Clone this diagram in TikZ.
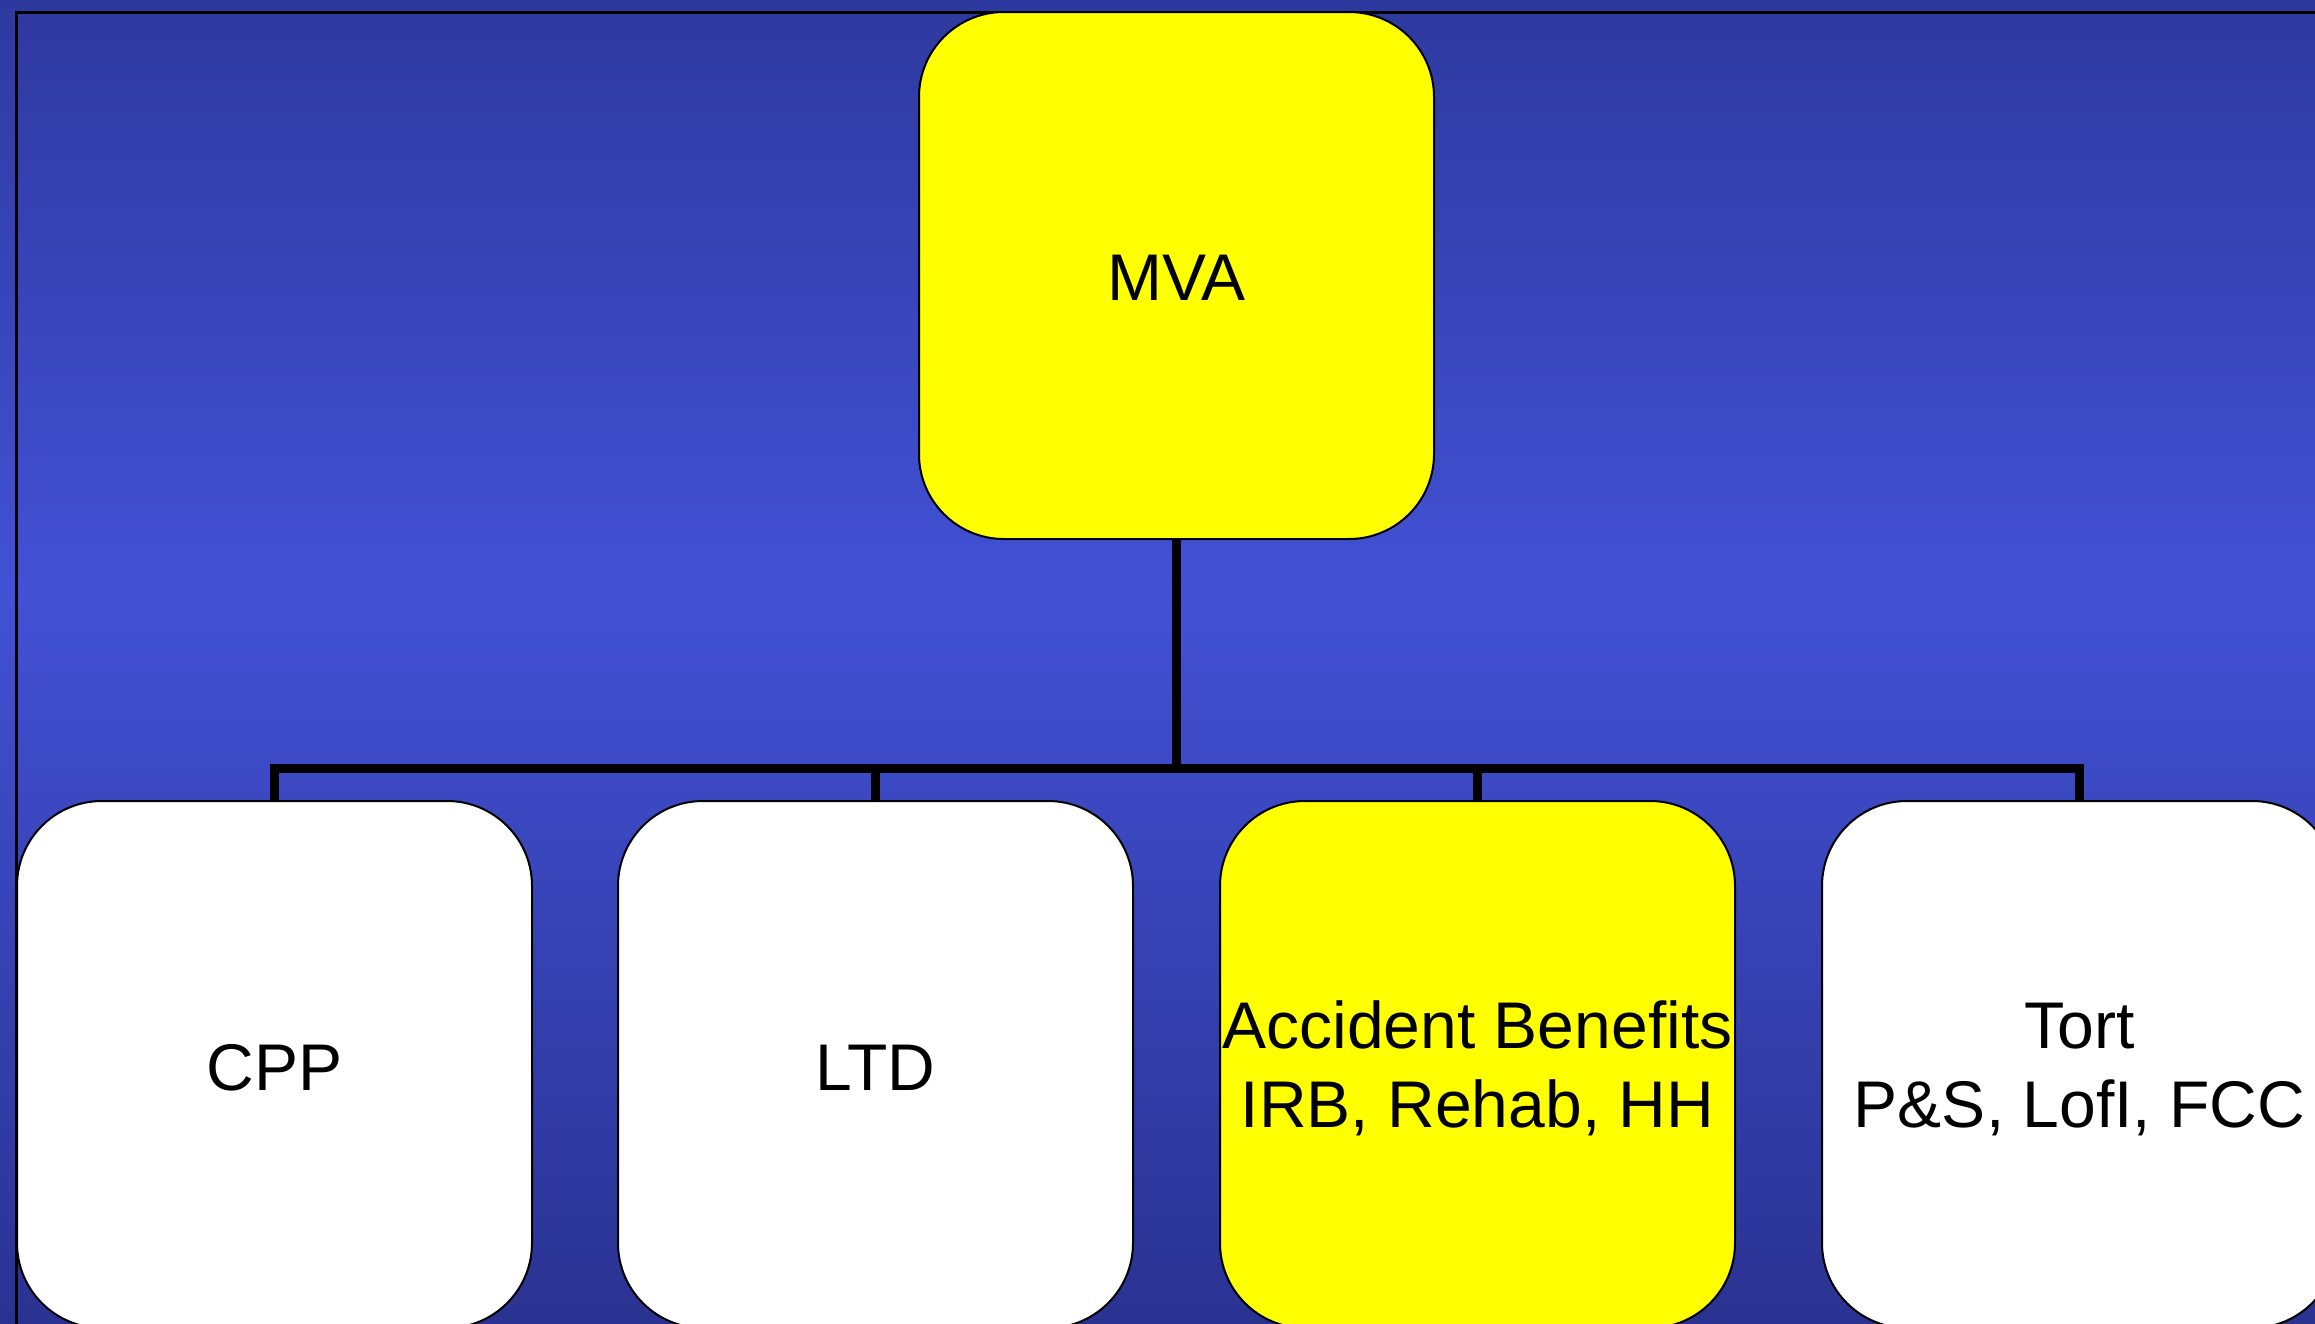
\documentclass[tikz,border=0pt]{standalone}
\usepackage{fontspec}
\setmainfont{Liberation Sans}
\definecolor{bgtop}{RGB}{46,57,159}
\definecolor{bgmid}{RGB}{66,81,213}
\definecolor{bgbot}{RGB}{42,50,145}
\definecolor{boxyellow}{RGB}{255,255,0}
\begin{document}
\begin{tikzpicture}[x=1pt,y=-1pt,
  box/.style={draw=black, line width=2pt, rounded corners=85pt,
    minimum width=515pt, minimum height=527pt, inner sep=0pt,
    align=center, font=\fontsize{66}{79}\selectfont},
  yelbox/.style={box, fill=boxyellow},
  whtbox/.style={box, fill=white},
  conn/.style={draw=black, line width=9pt}]
\useasboundingbox (0,0) rectangle (2315,1323);
\clip (0,0) rectangle (2315,1323);
% background
\shade[top color=bgtop, bottom color=bgmid] (0,0) rectangle (2315,591);
\shade[top color=bgmid, bottom color=bgbot] (0,590) rectangle (2315,1323);
% frame
\draw[line width=3pt] (16,1400) -- (16,12) -- (2400,12);
% nodes
\node[yelbox, text height=50pt] (mva) at (1176.5,275.5) {MVA};
\node[whtbox, text height=53pt] (cpp) at (274.5,1064.5) {CPP};
\node[whtbox, text height=52pt] (ltd) at (875.5,1064.5) {LTD};
\node[yelbox, text height=135pt] (ab) at (1477.5,1064.5) {Accident Benefits\\IRB, Rehab, HH};
\node[whtbox, text height=134pt] (tort) at (2079.5,1064.5) {Tort\\P\&S, LofI, FCC};
% connectors
\coordinate (bus) at (1176.5,768.5);
\draw[conn] (mva.south) -- (bus) -| (cpp.north);
\draw[conn] (mva.south) -- (bus) -| (ltd.north);
\draw[conn] (mva.south) -- (bus) -| (ab.north);
\draw[conn] (mva.south) -- (bus) -| (tort.north);
\end{tikzpicture}
\end{document}
